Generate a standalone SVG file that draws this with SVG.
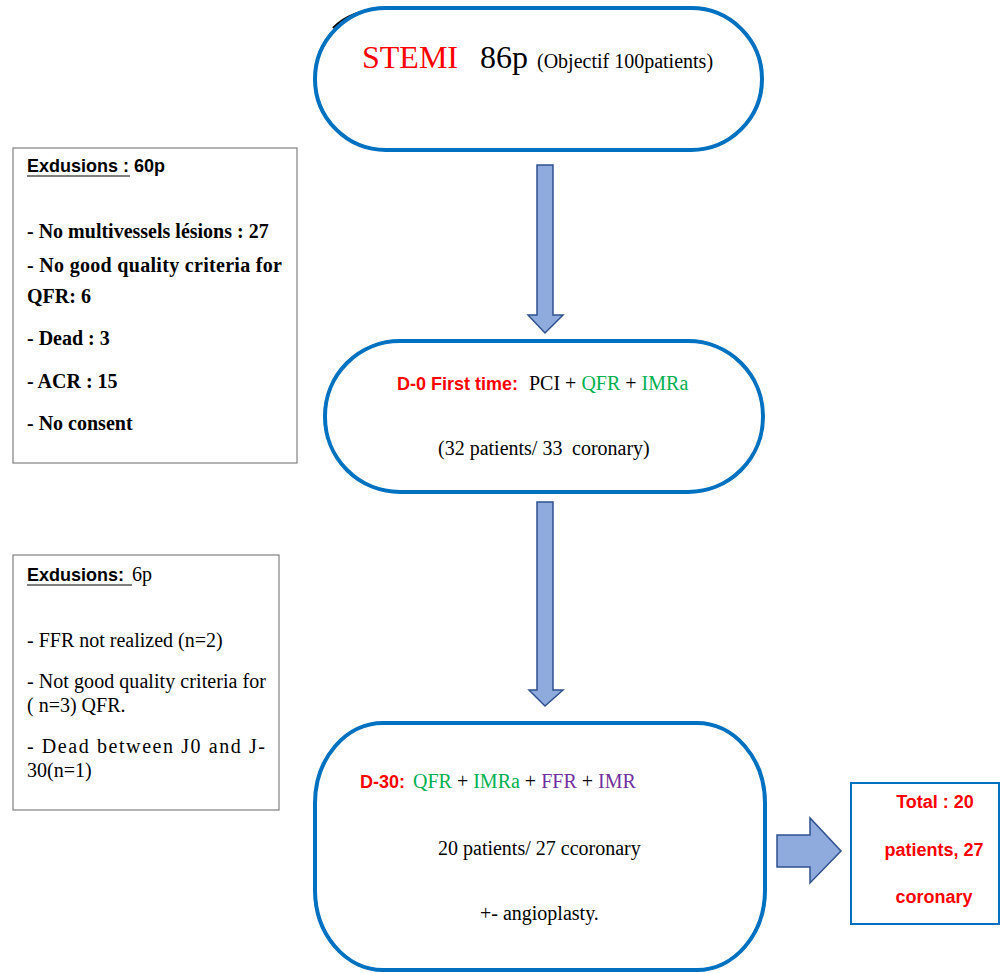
<svg xmlns="http://www.w3.org/2000/svg" width="1001" height="973" viewBox="0 0 1001 973">
<style>
.stad{fill:#fff;stroke:#0070C0;stroke-width:4}
.box{fill:#fff;stroke:#808080;stroke-width:1.2}
.arr{fill:#8FAADC;stroke:#2F528F;stroke-width:1.5;stroke-linejoin:miter}
.tm{font-family:"Liberation Serif","Times New Roman",serif;font-size:20px;fill:#000}
.tmb{font-family:"Liberation Serif","Times New Roman",serif;font-size:20px;font-weight:bold;fill:#000}
.ar{font-family:"Liberation Sans",Arial,sans-serif;font-size:18px;font-weight:bold}
.red{fill:#FF0000}
.grn{fill:#00B050}
.pur{fill:#7030A0}
</style>
<rect width="1001" height="973" fill="#fff"/>

<g id="stemi">
<path d="M333,28 Q350,10 385,8" fill="none" stroke="#000" stroke-width="2"/>
<rect class="stad" x="315" y="8" width="447" height="142" rx="71" ry="71"/>
<text class="tm" y="68"><tspan x="362" font-size="32" class="red">STEMI</tspan><tspan x="480" font-size="32">86p</tspan><tspan x="537">(Objectif 100patients)</tspan></text>
</g>

<g id="excl1">
<rect class="box" x="13" y="148" width="284" height="315"/>
<text class="ar" x="27" y="172" fill="#000">Exdusions : 60p</text>
<line x1="27" y1="176" x2="130" y2="176" stroke="#000" stroke-width="1.2"/>
<text class="tmb" x="27" y="238">- No multivessels lésions : 27</text>
<text class="tmb" x="27" y="272" textLength="255" lengthAdjust="spacing">- No good quality criteria for</text>
<text class="tmb" x="27" y="303">QFR: 6</text>
<text class="tmb" x="27" y="345">- Dead : 3</text>
<text class="tmb" x="27" y="388">- ACR : 15</text>
<text class="tmb" x="27" y="430">- No consent</text>
</g>

<g id="d0">
<rect class="stad" x="325" y="341" width="438" height="151" rx="75" ry="75"/>
<text class="ar red" x="397" y="390">D-0 First time:</text>
<text class="tm" y="390"><tspan x="529">PCI + </tspan><tspan class="grn">QFR</tspan><tspan> + </tspan><tspan class="grn">IMRa</tspan></text>
<text class="tm" y="455"><tspan x="438">(32 patients/ 33 </tspan><tspan x="572">coronary)</tspan></text>
</g>

<g id="excl2">
<rect class="box" x="13" y="555" width="266" height="255" stroke="#404040"/>
<text x="27" y="581"><tspan class="ar" fill="#000">Exdusions: </tspan><tspan class="tm" x="132">6p</tspan></text>
<line x1="27" y1="585" x2="132" y2="585" stroke="#000" stroke-width="1.2"/>
<text class="tm" x="27" y="647">- FFR not realized (n=2)</text>
<text class="tm" x="27" y="688" textLength="239" lengthAdjust="spacing">- Not good quality criteria for</text>
<text class="tm" x="27" y="712">( n=3) QFR.</text>
<text class="tm" x="27" y="753" textLength="238" lengthAdjust="spacing">- Dead between J0 and J-</text>
<text class="tm" x="27" y="777">30(n=1)</text>
</g>

<g id="d30">
<rect class="stad" x="315" y="723" width="450" height="247" rx="68" ry="80"/>
<text class="ar red" x="360" y="788">D-30:</text>
<text class="tm" y="788"><tspan x="413" class="grn">QFR</tspan><tspan> + </tspan><tspan class="grn">IMRa</tspan><tspan> + </tspan><tspan class="pur">FFR</tspan><tspan> + </tspan><tspan class="pur">IMR</tspan></text>
<text class="tm" x="438" y="855">20 patients/ 27 ccoronary</text>
<text class="tm" x="480" y="920">+- angioplasty.</text>
</g>

<g id="total">
<rect x="851" y="783" width="148" height="141" fill="#fff" stroke="#0070C0" stroke-width="2"/>
<text class="ar red" x="935" y="808" text-anchor="middle">Total : 20</text>
<text class="ar red" x="934" y="856" text-anchor="middle">patients, 27</text>
<text class="ar red" x="934" y="903" text-anchor="middle">coronary</text>
</g>

<g id="connectors">
<polygon class="arr" points="537,165 553,165 553,315 563,315 545,333 528,315 537,315"/>
<polygon class="arr" points="537,502 553,502 553,690 563,690 545,706 529,690 537,690"/>
<polygon class="arr" points="777,835 810,835 810,818 841,851 810,883 810,867 777,867"/>
</g>
</svg>
